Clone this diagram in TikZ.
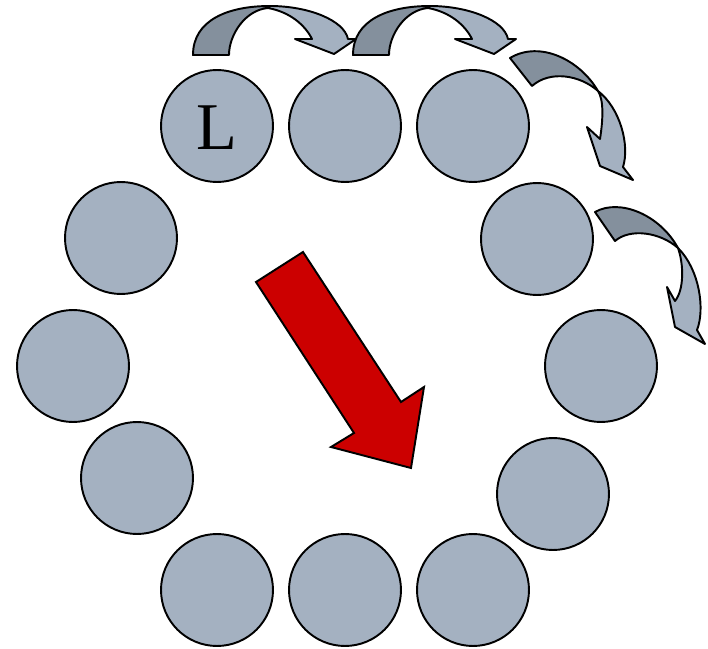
\documentclass[tikz,border=0pt]{standalone}
\usepackage{fontspec}
\newfontfamily\timesfont{Liberation Serif}
\usepackage{tikz}
\usetikzlibrary{positioning}
\usepackage{xcolor}
\definecolor{ballfill}{RGB}{164,177,193}
\definecolor{bandback}{RGB}{132,144,157}
\definecolor{pushred}{RGB}{204,0,0}

\begin{document}
\begin{tikzpicture}[x=0.02cm, y=-0.02cm, line width=1.1pt,
    ball/.style={circle, draw=black, fill=ballfill, minimum size=2.24cm, inner sep=0pt},
    front/.style={draw=black, fill=ballfill, line join=round},
    back/.style={draw=black, fill=bandback, line join=round}]
  \useasboundingbox (0,0) rectangle (708,649);

  % ring of balls, c1 is the leader
  \node[ball] (c1) at (217,126) {};
  \foreach \n/\x/\y in {2/345/126, 3/473/126, 4/537/239, 5/601/366,
      6/553/494, 7/473/590, 8/345/590, 9/217/590, 10/137/478,
      11/73/366, 12/121/238}
    \node[ball] (c\n) at (\x,\y) {};
  \node[font=\timesfont\fontsize{38}{44}\selectfont, inner sep=0pt,
    yshift=-0.04cm] (lead) at (c1) {L};

  % hops along the top row
  \foreach \dx in {0,160} {
    \begin{scope}[shift={(\dx,0)}]
      \draw[front] (270,6) .. controls (308,6) and (344,20) .. (348,39)
        -- (356,39) -- (334,54) -- (295,39) -- (312,39)
        .. controls (305,25) and (290,12) .. (268,8) -- cycle;
      \draw[back] (193,55) .. controls (193,20) and (228,6) .. (270,6)
        -- (268,8) .. controls (245,10) and (229,35) .. (229,55) -- cycle;
    \end{scope}
  }

  % hops down the right side
  \draw[front] (598,91) .. controls (620,108) and (630,145) .. (623,167)
    -- (633,180) -- (600,166) -- (587,127) -- (600,139)
    .. controls (603,120) and (604,100) .. (598,91) -- cycle;
  \draw[back] (510,58) .. controls (540,40) and (580,60) .. (598,91)
    .. controls (580,75) and (550,70) .. (532,86) -- cycle;

  \draw[front] (678,248) .. controls (700,270) and (705,310) .. (697,330)
    -- (705,344) -- (675,327) -- (667,287) -- (675,301)
    .. controls (684,290) and (684,265) .. (678,248) -- cycle;
  \draw[back] (595,212) .. controls (620,198) and (660,215) .. (678,248)
    .. controls (660,232) and (630,228) .. (615,241) -- cycle;

  % big push across the ring
  \draw[fill=pushred, line join=miter] (256,282) -- (303,252) -- (401,402)
    -- (424,387) -- (411,468) -- (331,447) -- (354,433) -- cycle;
\end{tikzpicture}
\end{document}
